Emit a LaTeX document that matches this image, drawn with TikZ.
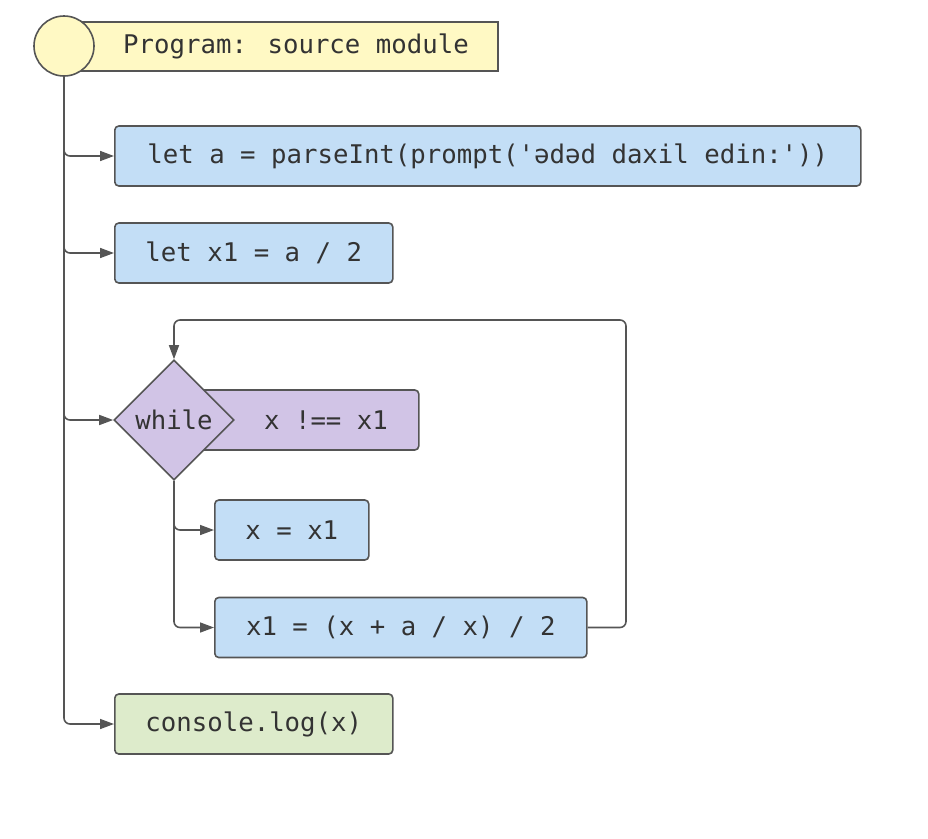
\documentclass[tikz,border=0pt]{standalone}
\usepackage{fontspec}
\newfontfamily\codefont{DejaVu Sans Mono}
\usetikzlibrary{arrows.meta,shapes.geometric}
\definecolor{strk}{HTML}{555555}
\definecolor{txt}{HTML}{333333}
\definecolor{yel}{HTML}{FFF9C4}
\definecolor{blu}{HTML}{C3DEF6}
\definecolor{pur}{HTML}{D1C4E6}
\definecolor{grn}{HTML}{DDEBCB}
\tikzset{
  base/.style={draw=strk, line width=1.6pt, text=txt, font=\codefont\fontsize{25.7}{30}\selectfont, inner sep=0pt},
  stmt/.style={base, rectangle, rounded corners=4pt, fill=blu, minimum height=60pt, anchor=west},
  outp/.style={stmt, fill=grn},
  condbox/.style={base, rectangle, rounded corners=4pt, fill=pur, minimum height=60pt, anchor=west},
  dia/.style={base, diamond, fill=pur, minimum width=120pt, minimum height=120pt},
  lbl/.style={text=txt, font=\codefont\fontsize{25.7}{30}\selectfont, inner sep=0pt},
  arr/.style={draw=strk, line width=1.6pt, rounded corners=6pt, -{Triangle[length=14pt,width=10pt]}},
  ln/.style={draw=strk, line width=1.6pt, rounded corners=6pt}
}
\begin{document}
\begin{tikzpicture}[x=1pt,y=-1pt]
\useasboundingbox (0,0) rectangle (928,838);
% title
\node[base, rectangle, fill=yel, minimum width=433pt, minimum height=49pt, anchor=west] (titlebox) at (64,46.5) {};
\node[lbl] (titletext) at (296,46.5) {Program: source module};
\node[base, circle, fill=yel, minimum size=60pt] (start) at (64,46) {};
% statements
\node[stmt, minimum width=746pt] (b1) at (114,156) {let a = parseInt(prompt('ədəd daxil edin:'))};
\node[stmt, minimum width=278pt] (b2) at (114,253) {let x1 = a / 2};
\node[condbox, minimum width=228pt] (cond) at (190,420) {};
\node[lbl] (condtext) at (326,420) {x !== x1};
\node[dia] (loop) at (174,420) {while};
\node[stmt, minimum width=154pt] (b4) at (214,530) {x = x1};
\node[stmt, minimum width=372pt] (b5) at (214,627.5) {x1 = (x + a / x) / 2};
\node[outp, minimum width=278pt] (b6) at (114,724) {console.log(x)};
\coordinate (loopc) at (626,320);
% connectors
\draw[arr] (start.south) |- (b1.west);
\draw[arr] (start.south) |- (b2.west);
\draw[arr] (start.south) |- (loop.west);
\draw[arr] (start.south) |- (b6.west);
\draw[arr] (loop.south) |- (b4.west);
\draw[arr] (loop.south) |- (b5.west);
\draw[arr] (b5.east) -| (loopc) -| (loop.north);
\end{tikzpicture}
\end{document}
